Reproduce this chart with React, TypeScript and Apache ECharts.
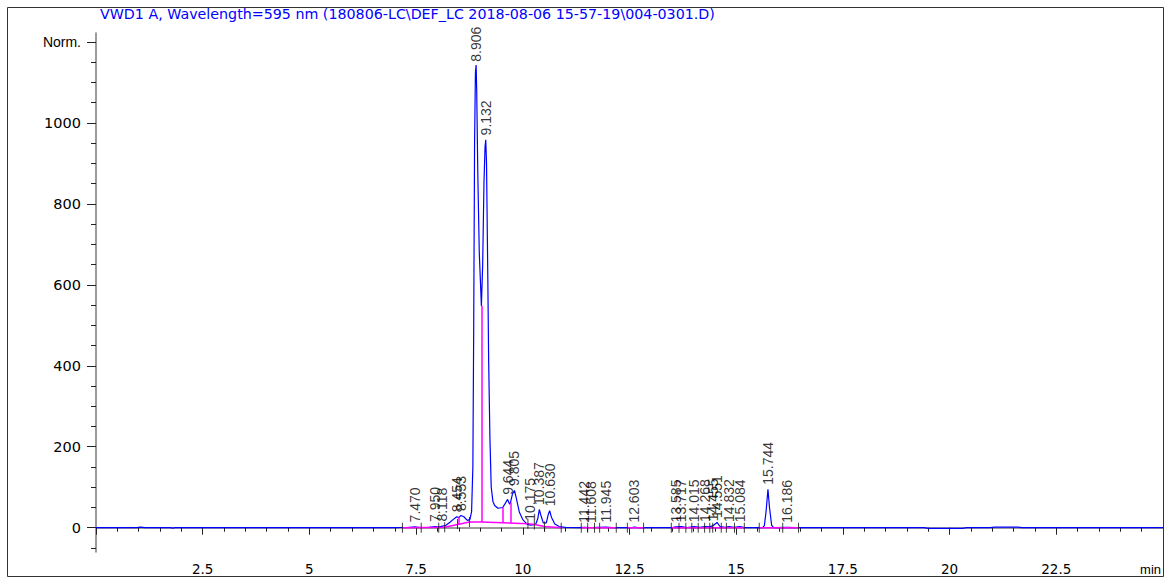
import React, { useEffect, useRef } from 'react';
import * as echarts from 'echarts';

const titleText = 'VWD1 A, Wavelength=595 nm (180806-LC\\DEF_LC 2018-08-06 15-57-19\\004-0301.D)';

// detector signal (min, mAU)
const signalTime = [
  0, 0.95, 1.05, 1.15, 1.75, 1.8, 1.85, 7.0, 7.15, 7.3, 7.47, 7.6, 7.8, 7.95, 8.03, 8.118,
  8.2, 8.3, 8.4, 8.454, 8.5, 8.553, 8.62, 8.7, 8.76, 8.8, 8.83, 8.85, 8.87, 8.89, 8.906,
  8.92, 8.945, 8.98, 9.03, 9.06, 9.09, 9.115, 9.132, 9.15, 9.18, 9.2, 9.23, 9.26, 9.3,
  9.34, 9.42, 9.53, 9.6, 9.644, 9.69, 9.71, 9.76, 9.805, 9.85, 9.92, 10.0, 10.1, 10.175,
  10.3, 10.35, 10.387, 10.42, 10.48, 10.55, 10.6, 10.63, 10.67, 10.75, 10.85, 11.0, 11.3,
  11.442, 11.6, 11.945, 12.1, 12.55, 12.603, 12.7, 13.5, 13.585, 13.717, 13.85, 14.015,
  14.15, 14.268, 14.38, 14.455, 14.551, 14.62, 14.75, 14.832, 14.95, 15.084, 15.2, 15.62,
  15.66, 15.7, 15.744, 15.78, 15.83, 15.88, 16.186, 16.4, 19.4, 19.5, 20.3, 20.4, 20.95,
  21.05, 21.6, 21.7, 25,
];
const signalValue = [
  0, 0, 1.5, 0, 0, -0.8, 0, 0, 0.5, 0.5, 2, 0.5, 1, 3, 1.5, 4,
  6, 14, 23, 27, 25, 30, 27, 18, 20, 40, 150, 500, 950, 1125, 1143,
  1080, 880, 680, 548, 650, 850, 940, 958, 900, 620, 412, 220, 100, 65,
  55, 48, 50, 62, 70, 58, 62, 84, 92, 72, 38, 20, 9, 6,
  8, 22, 45, 32, 12, 12, 34, 42, 26, 9, 3, 1, 0,
  1, 0.5, 1.5, 0, 0, 1.5, 0, 0, 2, 2.5, 0.5, 2.5,
  1, 3, 2, 5, 13, 3, 1, 3, 1, 2.5, 0, 0,
  5, 40, 95, 50, 6, 0, 1, 0, 0, -1.5, -1.5, 0, 0,
  1.5, 1.5, 0, 0,
];

// integrated peaks
const peakLabels = [
  '7.470', '7.950', '8.118', '8.454', '8.553', '8.906', '9.132', '9.644', '9.805', '10.175',
  '10.387', '10.630', '11.442', '11.608', '11.945', '12.603', '13.585', '13.717', '14.015',
  '14.268', '14.455', '14.551', '14.832', '15.084', '15.744', '16.186',
];
const peakHeights = [
  2, 3, 4, 27, 30, 1140, 958, 70, 92, 6,
  45, 42, 1, 0.5, 1.5, 1.5, 2, 2.5, 2.5,
  3, 5, 13, 3, 2.5, 95, 1,
];

// integration baseline (null = gap)
const baselineTime = [7.18, 8.17, 8.75, 9.03, 10.12, 10.27, 10.51, 10.9, 11.1, 11.37, 12.19, 12.3, 12.45, 12.83, 13.1, 13.48, 15.19, 15.4, 15.54, 16.46];
const baselineValue = [0, 1, 14, 14, 10, 8, 3, 0, null, 0, 0, null, 0, 0, null, 0, 0, null, 0, 0];

// peak drop lines
const dropTime = [8.5, 9.03, 9.53, 9.71];
const dropFrom = [8.4, 14, 12.5, 12];
const dropTo = [25, 548, 50, 62];

// integration event marks
const eventTime = [7.18, 7.62, 8.03, 8.17, 8.47, 8.75, 10.12, 10.27, 10.51, 10.9, 11.37, 11.52, 11.68, 11.8, 12.19, 12.45, 12.83, 13.48, 13.66, 13.82, 13.96, 14.11, 14.26, 14.38, 14.45, 14.65, 14.77, 14.96, 15.19, 15.54, 16.09, 16.46];
const eventValue = [0, 0, 0, 1, 9, 14, 10, 8, 3, 0, 0, 0, 0, 0, 0, 0, 0, 0, 0, 0, 0, 0, 0, 0, 0, 0, 0, 0, 0, 0, 0, 0];

const yMajorTicks = [0, 200, 400, 600, 800, 1000, 1200];
const yMinorTicks = [-50, 0, 50, 100, 150, 200, 250, 300, 350, 400, 450, 500, 550, 600, 650, 700, 750, 800, 850, 900, 950, 1000, 1050, 1100, 1150, 1200];

const FONT = '"Liberation Sans", Arial, sans-serif';
const WIDE = '"DejaVu Sans", sans-serif';

export default function App() {
  const ref = useRef<HTMLDivElement>(null);
  useEffect(() => {
    if (!ref.current) return;
    const chart = echarts.init(ref.current, undefined, { renderer: 'svg' });
    const signal = signalTime.map((t, i) => [t, signalValue[i]]);
    const baseline = baselineTime.map((t, i) => [t, baselineValue[i] === null ? '-' : baselineValue[i]]);
    const peaks = peakLabels.map((l, i) => [parseFloat(l), peakHeights[i], l]);
    const events = eventTime.map((t, i) => [t, eventValue[i]]);
    const yCommon = { type: 'value', min: -60, max: 1222, splitLine: { show: false }, position: 'left' };
    chart.setOption({
      animation: false,
      textStyle: { fontFamily: FONT },
      grid: { left: 96, right: 11, top: 33, bottom: 29, containLabel: false, outerBoundsMode: 'none' },
      xAxis: {
        type: 'value', min: 0, max: 25, interval: 2.5,
        axisLine: { lineStyle: { color: '#7a7a7a', width: 1.5 } },
        axisTick: { length: 7, lineStyle: { color: '#222' } },
        minorTick: { show: true, splitNumber: 5, length: 4, lineStyle: { color: '#222' } },
        splitLine: { show: false },
        minorSplitLine: { show: false },
        axisLabel: {
          color: '#000', fontSize: 13.5, fontFamily: WIDE, margin: 10, hideOverlap: false,
          formatter: (v: number) => (v === 0 || v === 25 ? '' : String(v)),
        },
      },
      yAxis: [
        {
          ...yCommon,
          axisLine: { show: true, lineStyle: { color: '#7a7a7a', width: 1.5 } },
          axisTick: { show: true, length: 9, customValues: yMajorTicks, lineStyle: { color: '#222' } },
          axisLabel: {
            show: true, customValues: yMajorTicks, color: '#000', fontSize: 14.5, fontFamily: WIDE, margin: 15,
            formatter: (v: number) => (v === 1200 ? '{n|Norm.}' : String(v)),
            rich: { n: { fontFamily: FONT, fontSize: 14, color: '#000' } },
          },
        },
        {
          ...yCommon,
          axisLine: { show: false },
          axisTick: { show: true, length: 5, customValues: yMinorTicks, lineStyle: { color: '#222' } },
          axisLabel: { show: false },
        },
      ],
      series: [
        {
          type: 'line', data: signal, symbol: 'none', z: 2,
          lineStyle: { color: '#0000ff', width: 1.2 }, silent: true,
        },
        {
          type: 'line', data: baseline, symbol: 'none', z: 3, connectNulls: false,
          lineStyle: { color: '#ff00ff', width: 1.5 }, silent: true,
          markLine: {
            silent: true, symbol: ['none', 'none'], label: { show: false },
            lineStyle: { color: '#ff00ff', type: 'solid', width: 1.5 },
            data: dropTime.map((t, i) => [{ coord: [t, dropFrom[i]] }, { coord: [t, dropTo[i]] }]),
          },
        },
        {
          type: 'scatter', data: events, symbol: 'rect', symbolSize: [1, 10], z: 4,
          itemStyle: { color: '#111' }, silent: true,
        },
        {
          type: 'scatter', data: peaks, symbolSize: 1, z: 5,
          itemStyle: { color: 'rgba(0,0,0,0)' }, silent: true,
          label: {
            show: true, position: 'top', distance: 4, rotate: 90, align: 'left', verticalAlign: 'middle',
            fontSize: 14, color: '#000', fontFamily: FONT,
            formatter: (p: any) => p.data[2],
          },
          labelLayout: { hideOverlap: false },
        },
      ],
      graphic: [
        {
          type: 'rect', z: 100, silent: true,
          shape: { x: 7.5, y: 7.5, width: 1156, height: 569 },
          style: { fill: 'none', stroke: '#333', lineWidth: 1 },
        },
        {
          type: 'text', x: 100, y: 7, silent: true,
          style: { text: titleText, fill: '#0000ff', fontSize: 14.25, fontFamily: WIDE },
        },
        {
          type: 'text', x: 1161, y: 563, silent: true,
          style: { text: 'min', fill: '#000', fontSize: 13, fontFamily: FONT, align: 'right' },
        },
      ],
    });
    return () => chart.dispose();
  }, []);
  return <div ref={ref} style={{ position: 'absolute', left: 0, top: 0, width: 1174, height: 581 }} />;
}
